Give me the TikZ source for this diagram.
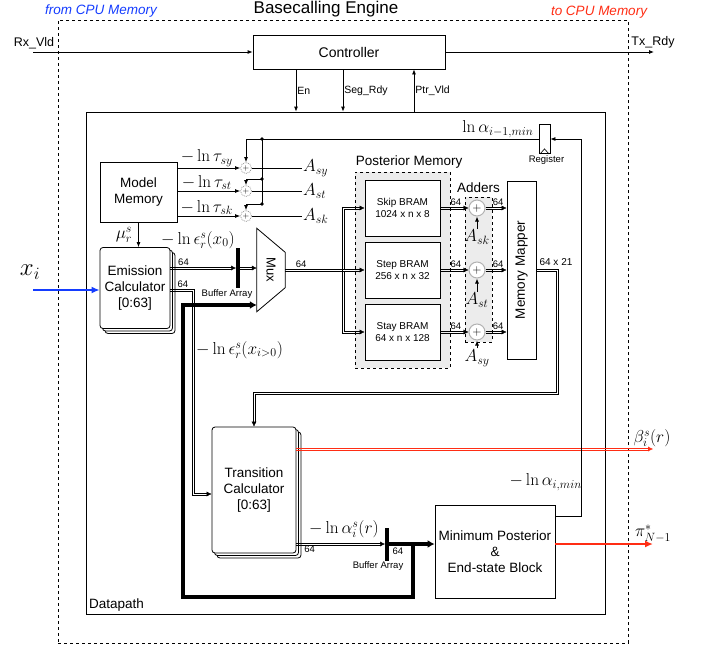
\documentclass[tikz,border=0pt]{standalone}
\usepackage[no-math]{fontspec}
\setmainfont{Liberation Sans}
\usetikzlibrary{positioning}
\usetikzlibrary{arrows.meta}
\usetikzlibrary{shadows}
\usetikzlibrary{calc}
\usetikzlibrary{decorations.markings}
\definecolor{cpublue}{RGB}{20,60,255}
\definecolor{cpured}{RGB}{255,45,20}
\definecolor{memgray}{RGB}{236,236,236}
\newcommand{\busdraw}[4][black]{%
  \draw[#1, rail, shorten >=4pt, transform canvas={yshift=1.1pt}] #2 -- #3;
  \draw[#1, rail, shorten >=4pt, transform canvas={yshift=-1.1pt}] #2 -- #3;
  \path[busend=#1] #2 -- #3 #4;}

\begin{document}
\begin{tikzpicture}[x=1pt, y=-1pt, >={Latex[length=5pt,width=4pt]},
blockbox/.style={rectangle, draw=black, fill=white, line width=0.8pt, align=center, font=\fontsize{13.5}{16}\selectfont},
calcbox/.style={blockbox, rounded corners=3pt, double copy shadow={shadow xshift=2.5pt, shadow yshift=-2.5pt}},
brambox/.style={rectangle, draw=black, fill=white, line width=0.8pt, align=center, minimum width=75pt, minimum height=56pt, font=\fontsize{10}{11.5}\selectfont},
groupbox/.style={rectangle, draw=black, dashed, line width=0.8pt, fill=memgray},
sumnode/.style={circle, draw=gray!60, fill=white, line width=1pt, inner sep=0pt, minimum size=16pt, font=\fontsize{12}{12}\selectfont},
tapsum/.style={circle, draw=gray!80, densely dotted, fill=white, line width=0.8pt, inner sep=0pt, minimum size=11pt, font=\fontsize{8}{8}\selectfont},
sig/.style={->, line width=0.8pt},
rail/.style={line width=0.7pt},
busend/.style={postaction={decorate, decoration={markings, mark=at position 1 with {\arrow[#1]{Latex[length=5pt,width=5pt]}}}}},
busend/.default=black,
feedline/.style={line width=3.5pt},
bufbar/.style={rectangle, fill=black, inner sep=0pt, minimum width=3.5pt},
mathlab/.style={inner sep=1pt, font=\fontsize{17}{20}\selectfont},
numlab/.style={inner sep=1pt, font=\fontsize{9.5}{11}\selectfont},
smalllab/.style={inner sep=1pt, font=\fontsize{10.5}{12}\selectfont}]
\useasboundingbox (0,0) rectangle (706,648);

\node[draw, dashed, line width=0.8pt, minimum width=570pt, minimum height=623pt] (engine) at (343,331.5) {};
\node[font=\fontsize{17}{20}\selectfont] (title) at (326,9) {Basecalling Engine};
\node[font=\fontsize{13.5}{16}\selectfont\itshape, text=cpublue] (fromcpu) at (101,11) {from CPU Memory};
\node[font=\fontsize{13.5}{16}\selectfont\itshape, text=cpured] (tocpu) at (599,12) {to CPU Memory};

\node[blockbox, minimum width=192pt, minimum height=34pt, font=\fontsize{14}{16}\selectfont] (controller) at (349,52) {Controller};
\node[draw, line width=0.8pt, minimum width=519pt, minimum height=502pt] (datapath) at (345.5,363) {};
\node[anchor=south west, font=\fontsize{13.5}{16}\selectfont] (dplabel) at (datapath.south west) {Datapath};

\coordinate (rxin) at (33,52);
\coordinate (txout) at (654,52);
\node[font=\fontsize{12.5}{14}\selectfont] (rxlab) at (34,43) {Rx\_Vld};
\node[font=\fontsize{12.5}{14}\selectfont] (txlab) at (653,42) {Tx\_Rdy};
\draw[sig] (rxin) -- (controller.west);
\draw[sig] (controller.east) -- (txout);
\draw[sig] ([xshift=-53pt]controller.south) -- ([xshift=-53pt]controller.south |- datapath.north) node[smalllab, midway, right] {En};
\draw[sig] ([xshift=-6pt]controller.south) -- ([xshift=-6pt]controller.south |- datapath.north) node[smalllab, midway, right] {Seg\_Rdy};
\draw[sig] ([xshift=65pt]controller.south |- datapath.north) -- ([xshift=65pt]controller.south) node[smalllab, midway, right] {Ptr\_Vld};

\node[blockbox, minimum width=77pt, minimum height=60pt] (modelmem) at (138.5,192) {Model\\Memory};
\node[tapsum] (tapsy) at (246,168) {$+$};
\node[tapsum] (tapst) at (246,191) {$+$};
\node[tapsum] (tapsk) at (246,216) {$+$};
\node[mathlab, anchor=west] (asy) at (302,168) {$A_{sy}$};
\node[mathlab, anchor=west] (ast) at (302,191) {$A_{st}$};
\node[mathlab, anchor=west] (ask) at (302,216) {$A_{sk}$};
\draw[sig] (modelmem.east |- tapsy) -- (tapsy) node[mathlab, midway, above, xshift=-2pt] {$-\ln\tau_{sy}$};
\draw[sig] (modelmem.east |- tapst) -- (tapst) node[mathlab, midway, above, xshift=-2pt] {$-\ln\tau_{st}$};
\draw[sig] (modelmem.east |- tapsk) -- (tapsk) node[mathlab, midway, above, xshift=-2pt] {$-\ln\tau_{sk}$};
\draw[line width=0.8pt] (tapsy) -- (asy);
\draw[line width=0.8pt] (tapst) -- (ast);
\draw[line width=0.8pt] (tapsk) -- (ask);

\node[draw, line width=0.8pt, minimum width=11pt, minimum height=29pt, inner sep=0pt] (register) at (544.5,139) {};
\draw[line width=0.6pt] ([xshift=1.5pt]register.south west) -- ([yshift=5pt]register.south) -- ([xshift=-1.5pt]register.south east);
\node[numlab, below=1pt of register, xshift=2pt] (reglab) {Register};
\node[mathlab, anchor=south east] (lnprev) at ([xshift=-4pt]register.west) {$\ln\alpha_{i-1,min}$};
\coordinate (tapa) at (262,139);
\coordinate (tapb) at (262,179);
\coordinate (tapc) at (262,204);
\draw[sig] (register.west) -- (tapsy |- register.west) -- (tapsy.north);
\draw[line width=0.8pt] (tapa) -- (tapc);
\draw[sig] (tapb) -- (tapst |- tapb) -- (tapst.north);
\draw[sig] (tapc) -- (tapsk |- tapc) -- (tapsk.north);
\fill (tapa) circle (1.8pt);
\fill (tapb) circle (1.8pt);
\fill (tapc) circle (1.8pt);

\node[calcbox, minimum width=70pt, minimum height=81pt] (emission) at (135,288) {Emission\\Calculator\\{[0:63]}};
\node[calcbox, minimum width=84pt, minimum height=126pt] (transcalc) at (254,490) {Transition\\Calculator\\{[0:63]}};
\node[blockbox, minimum width=120pt, minimum height=93pt] (minpost) at (495,551.5) {Minimum Posterior\\\&\\End-state Block};
\draw[sig] (modelmem.south) -- (modelmem.south |- emission.north) node[mathlab, midway, left=5pt] {$\mu_r^s$};
\coordinate (xin) at (33,290);
\draw[-{Latex[length=8pt,width=7pt]}, cpublue, line width=2.2pt] (xin) -- (xin -| emission.west);
\node[mathlab, font=\fontsize{24}{26}\selectfont] (xlab) at (30,272) {$x_i$};

\node[inner sep=0pt, minimum width=28pt, minimum height=83pt] (mux) at (271,270) {};
\draw[line width=0.8pt] (mux.north west) -- ([yshift=-24pt]mux.north east) -- ([yshift=24pt]mux.south east) -- (mux.south west) -- cycle;
\node[rotate=-90, font=\fontsize{13}{15}\selectfont] (muxlab) at (mux.center) {Mux};

\node[bufbar, minimum height=40pt] (bar1) at (238,268) {};
\node[numlab, below=0pt of bar1, xshift=-11pt] (buf1lab) {Buffer Array};
\node[mathlab] (epszero) at (198,240) {$-\ln\epsilon_r^s(x_0)$};
\busdraw{([yshift=20pt]emission.east)}{(bar1.west)}{node[numlab, pos=0.2, above=1pt] {64}}
\busdraw{(bar1.east)}{(mux.west |- bar1.east)}{}
\coordinate (epsturn) at (193,494);
\draw[rail] ([yshift=-0.9pt]emission.east) -| ($(epsturn)+(1.1,-1.1)$) -- ($(epsturn -| transcalc.west)+(-4,-1.1)$);
\draw[rail] ([yshift=-3.1pt]emission.east) -| ($(epsturn)+(-1.1,1.1)$) -- ($(epsturn -| transcalc.west)+(-4,1.1)$);
\path[busend] (epsturn) -- (epsturn -| transcalc.west);
\node[numlab, anchor=south west] (emlab) at ([xshift=6pt, yshift=-0.5pt]emission.east) {64};
\node[mathlab, anchor=west] (epsrest) at (195,350) {$-\ln\epsilon_r^s(x_{i>0})$};

\node[groupbox, minimum width=95pt, minimum height=196pt] (postmem) at (402.5,270) {};
\node[anchor=south west, inner sep=1pt, font=\fontsize{13.5}{16}\selectfont] (postlab) at ([yshift=2pt]postmem.north west) {Posterior Memory};
\node[brambox] (skipbram) at (402.5,208) {Skip BRAM\\1024 x n x 8};
\node[brambox] (stepbram) at (402.5,270) {Step BRAM\\256 x n x 32};
\node[brambox] (staybram) at (402.5,332) {Stay BRAM\\64 x n x 128};
\coordinate (splitpt) at (343,270);
\busdraw{(mux.east)}{(stepbram.west)}{node[numlab, pos=0.2, above=1pt] {64}}
\draw[rail] ($(splitpt |- skipbram.west)+(-1.1,-1.1)$) -- ($(splitpt |- staybram.west)+(-1.1,1.1)$);
\draw[rail] ($(splitpt |- skipbram.west)+(-1.1,-1.1)$) -- ($(skipbram.west)+(-4,-1.1)$);
\draw[rail] ($(splitpt |- staybram.west)+(-1.1,1.1)$) -- ($(staybram.west)+(-4,1.1)$);
\draw[rail] ($(splitpt)+(1.1,-1.1)$) |- ($(skipbram.west)+(-4,1.1)$);
\draw[rail] ($(splitpt)+(1.1,1.1)$) |- ($(staybram.west)+(-4,-1.1)$);
\path[busend] (splitpt |- skipbram.west) -- (skipbram.west);
\path[busend] (splitpt |- staybram.west) -- (staybram.west);

\node[groupbox, minimum width=27pt, minimum height=145pt] (addgroup) at (478.5,269.5) {};
\node[above=0pt of addgroup, font=\fontsize{13.5}{16}\selectfont] (addlab) {Adders};
\node[sumnode] (addskip) at (477,208) {$+$};
\node[sumnode] (addstep) at (477,270) {$+$};
\node[sumnode] (addstay) at (477,332) {$+$};
\node[mathlab] (inskip) at (477,237) {$A_{sk}$};
\node[mathlab] (instep) at (477,300) {$A_{st}$};
\node[mathlab] (instay) at (477,358) {$A_{sy}$};
\draw[sig] (inskip) -- (addskip);
\draw[sig] (instep) -- (addstep);
\draw[sig] (instay) -- (addstay);
\busdraw{(skipbram.east)}{(addskip)}{node[numlab, pos=0, anchor=south west, xshift=9pt, yshift=1pt] {64}}
\busdraw{(stepbram.east)}{(addstep)}{node[numlab, pos=0, anchor=south west, xshift=9pt, yshift=1pt] {64}}
\busdraw{(staybram.east)}{(addstay)}{node[numlab, pos=0, anchor=south west, xshift=9pt, yshift=1pt] {64}}

\node[draw, line width=0.8pt, fill=white, minimum width=29pt, minimum height=178pt] (mapper) at (521.5,270) {};
\node[rotate=90, font=\fontsize{13.5}{16}\selectfont] (mapperlab) at (mapper.center) {Memory Mapper};
\busdraw{(addskip)}{(addskip -| mapper.west)}{node[numlab, pos=0.6, above=1pt] {64}}
\busdraw{(addstep)}{(addstep -| mapper.west)}{node[numlab, pos=0.6, above=1pt] {64}}
\busdraw{(addstay)}{(addstay -| mapper.west)}{node[numlab, pos=0.6, above=1pt] {64}}

\coordinate (mapturn) at (557,393);
\draw[rail] ([yshift=1.1pt]mapper.east) -| ($(mapturn)+(1.1,1.1)$) -| ($(transcalc.north)+(1.1,-4)$);
\draw[rail] ([yshift=-1.1pt]mapper.east) -| ($(mapturn)+(-1.1,-1.1)$) -| ($(transcalc.north)+(-1.1,-4)$);
\path[busend] (transcalc.north |- mapturn) -- (transcalc.north);
\node[numlab, anchor=south west, font=\fontsize{10}{12}\selectfont] (maplab) at ([xshift=2pt, yshift=3pt]mapper.east) {64 x 21};

\coordinate (betaout) at (653,449);
\busdraw[cpured]{([yshift=41pt]transcalc.east)}{(betaout)}{node[mathlab, above=1pt, xshift=-1pt] {$\beta_i^s(r)$}}

\node[bufbar, minimum height=33pt] (bar2) at (387,544) {};
\node[numlab, below=0pt of bar2, xshift=-9pt] (buf2lab) {Buffer Array};
\node[mathlab] (alphalab) at (344,529) {$-\ln\alpha_i^s(r)$};
\busdraw{([yshift=-54pt]transcalc.east)}{(bar2.west)}{node[numlab, pos=0.15, below=1pt] {64}}
\draw[feedline, -{Latex[length=7pt,width=8pt]}] (bar2.east) -- (bar2.east -| minpost.west) node[numlab, pos=0, anchor=north west, xshift=1pt, yshift=-1pt] {64};
\coordinate (looptap) at (413,544);
\coordinate (loopturn) at (183,597);
\draw[feedline, -{Latex[length=7pt,width=8pt]}] (looptap) |- (loopturn) |- ([yshift=-35pt]mux.west);

\coordinate (piout) at (653,544);
\draw[-{Latex[length=8pt,width=7pt]}, cpured, line width=2pt] (minpost.east |- piout) -- (piout) node[mathlab, above, text=black] {$\pi^*_{N-1}$};

\coordinate (fbturn) at (581,139);
\draw[sig] ([yshift=-12pt]minpost.north east) -| (fbturn) -- (register.east);
\node[mathlab, anchor=south east] (lnmin) at (583,492) {$-\ln\alpha_{i,min}$};
\end{tikzpicture}
\end{document}
